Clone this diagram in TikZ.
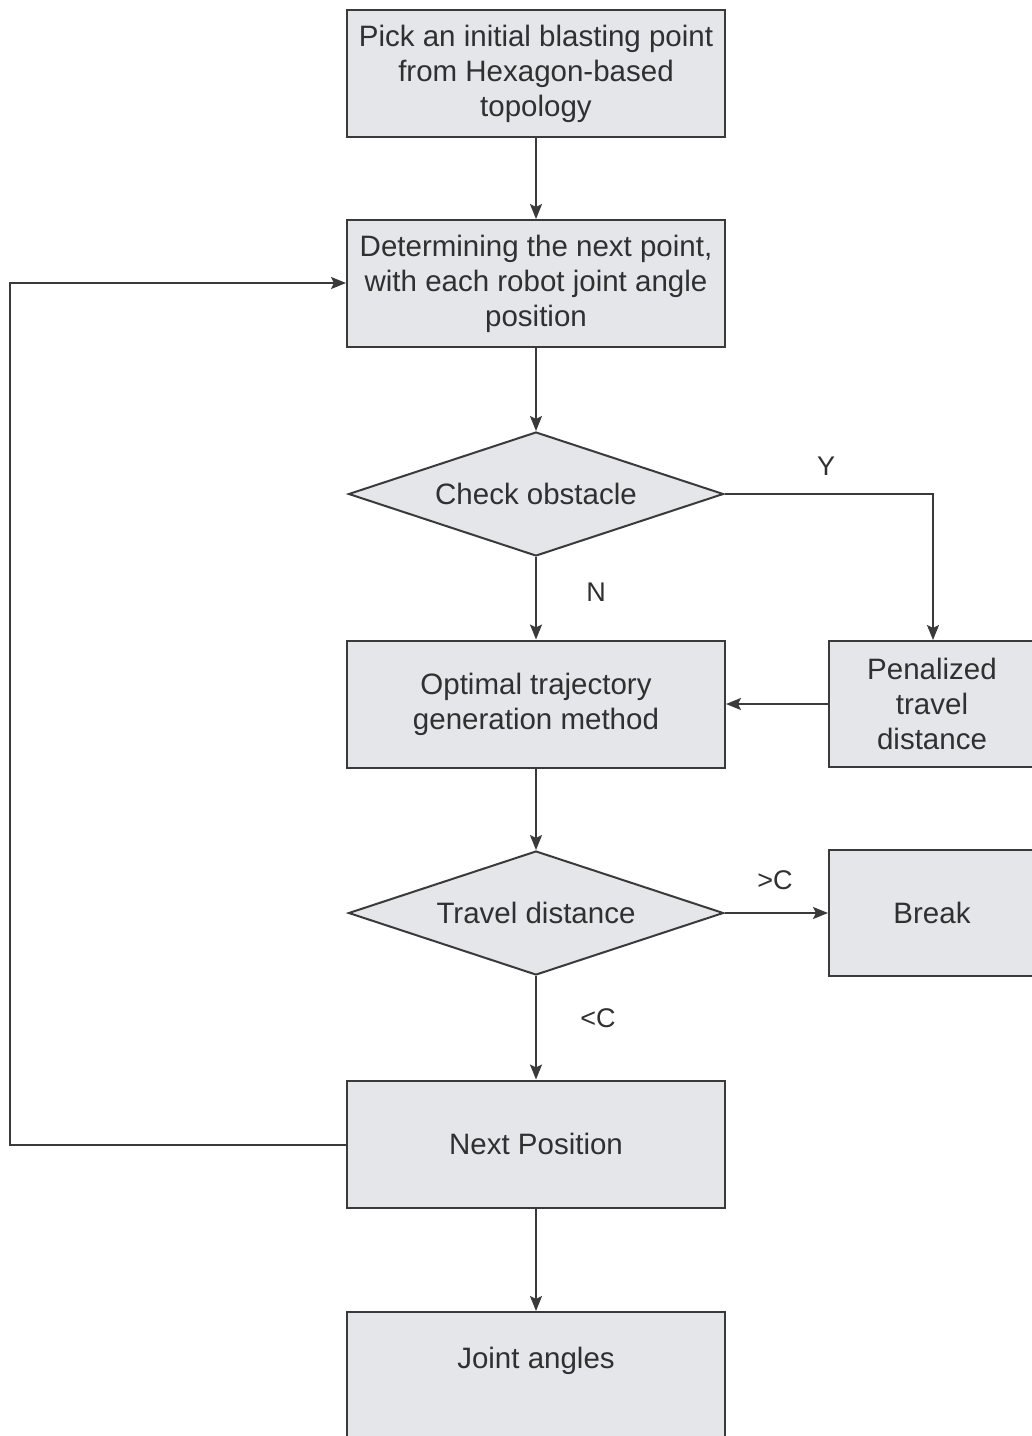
\documentclass[tikz,border=0pt]{standalone}
\usepackage{fontspec}
\setmainfont{Liberation Sans}
\usetikzlibrary{shapes.geometric,arrows.meta}
\definecolor{boxfill}{HTML}{E4E6EA}
\definecolor{linecol}{HTML}{3A3A3A}
\definecolor{textcol}{HTML}{303030}
\begin{document}
\begin{tikzpicture}[x=1pt,y=-1pt,
  every node/.style={text=textcol,font=\fontsize{29.5}{35}\selectfont},
  procbox/.style={draw=linecol,line width=2pt,fill=boxfill,rectangle,align=center,inner sep=0pt},
  mainbox/.style={procbox,minimum width=378pt,minimum height=127pt},
  sidebox/.style={procbox,minimum width=206pt,minimum height=126pt},
  decision/.style={draw=linecol,line width=2pt,fill=boxfill,diamond,aspect=3,minimum width=375pt,minimum height=124pt,inner sep=0pt},
  flow/.style={draw=linecol,line width=2pt,-{Stealth[length=15pt,width=12pt,inset=3pt]}},
  lbl/.style={font=\fontsize{27}{32}\selectfont}]
\useasboundingbox (0,0) rectangle (1032,1436);
\clip (0,0) rectangle (1032,1436);
\fill[white] (0,0) rectangle (1032,1436);

\node[mainbox] (pick) at (536,73.5) {Pick an initial blasting point\\from Hexagon-based\\topology};
\node[mainbox] (det) at (536,283.5) {Determining the next point,\\with each robot joint angle\\position};
\node[decision] (chk) at (536,494) {Check obstacle};
\node[mainbox] (opt) at (536,704) {Optimal trajectory\\generation method};
\node[sidebox] (pen) at (932,704) {Penalized\\travel\\distance};
\node[decision] (trav) at (536,913) {Travel distance};
\node[sidebox] (brk) at (932,913) {Break};
\node[mainbox] (next) at (536,1144) {Next Position};
\node[mainbox] (joint) at (536,1375.5) {Joint angles\\[0pt]\mbox{}};

\coordinate (ycorner) at (933,494);
\coordinate (lbot) at (10,1145);
\coordinate (ltop) at (10,283);

\draw[flow] (pick) -- (det);
\draw[flow] (det) -- (chk);
\draw[flow] (chk) -- node[lbl,right,xshift=46pt,yshift=6pt]{N} (opt);
\draw[flow] (chk.east) -- (ycorner) -- (pen.north -| ycorner);
\draw[flow] (pen) -- (opt);
\draw[flow] (opt) -- (trav);
\draw[flow] (trav.east) -- (brk.west);
\draw[flow] (trav) -- node[lbl,right,xshift=40pt,yshift=10pt]{<C} (next);
\draw[flow] (next.west |- lbot) -- (lbot) -- (ltop) -- (det.west |- ltop);
\draw[flow] (next) -- (joint);

\node[lbl] (ylab) at (826,466) {Y};
\node[lbl] (gclab) at (775,880) {>C};
\end{tikzpicture}
\end{document}
